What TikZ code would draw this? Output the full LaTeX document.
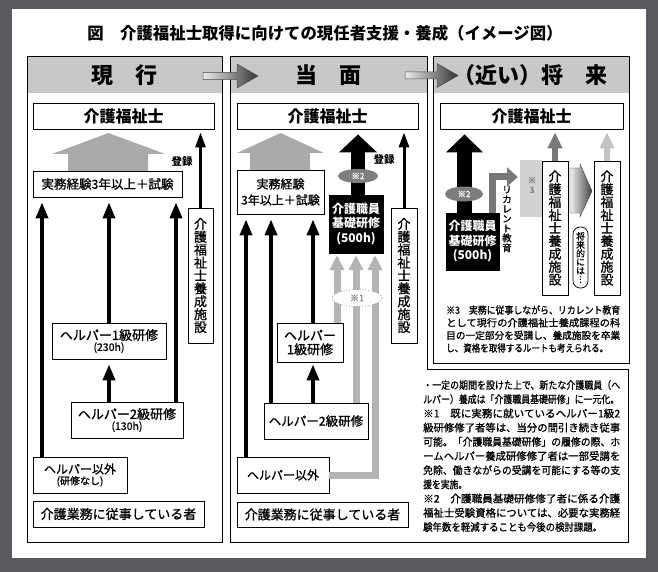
\documentclass[tikz,border=0pt]{standalone}
\usepackage{fontspec}
\setmainfont{Noto Sans CJK JP}[UprightFeatures={FakeBold=1.0}]
\usepackage{graphicx}
\usetikzlibrary{arrows.meta,shapes.geometric}
\definecolor{bgdark}{RGB}{89,89,94}
\definecolor{hdrgray}{RGB}{200,200,200}
\definecolor{housegray}{RGB}{170,170,170}
\definecolor{routegray}{RGB}{180,180,180}
\definecolor{notegray}{RGB}{125,125,125}
\definecolor{recgray}{RGB}{120,120,120}
\definecolor{lightrect}{RGB}{210,210,210}
\definecolor{palegray}{RGB}{195,195,195}
\newcommand\fitw[2]{\resizebox{#1}{\height}{#2}}
\newcommand\myfs[2]{\fontsize{#1}{#2}\selectfont}
\tikzset{
  box/.style={draw=black, line width=0.8pt, fill=white, inner sep=0pt, align=center},
  blackbox/.style={draw=black, fill=black, text=white, inner sep=0pt, align=center, font=\bfseries\myfs{12}{14.5}},
  vbox/.style={box, font=\myfs{13}{12.9}},
  uparrow/.style={-{Triangle[length=16pt,width=12pt]}, line width=3.5pt, shorten >=5pt},
  regarrow/.style={-{Triangle[length=15pt,width=10pt]}, line width=3pt, shorten >=3pt},
  routearrow/.style={-{Triangle[length=15pt,width=14pt]}, line width=7pt, draw=routegray, shorten >=2pt},
  bigarrow/.style={-{Triangle[length=18pt,width=37pt]}, line width=14pt, shorten >=5pt},
  schoolarrow/.style={-{Triangle[length=16pt,width=14pt]}, line width=6pt, shorten >=3pt},
  hdr/.style={font=\bfseries\myfs{22}{22}, inner sep=0pt},
  reglabel/.style={font=\bfseries\myfs{10.5}{12}, inner sep=0pt},
  notetxt/.style={anchor=west, inner sep=0pt, font=\myfs{10.5}{12}},
  notetxtb/.style={anchor=west, inner sep=0pt, font=\myfs{10}{12}},
  vlabel/.style={inner sep=0pt, align=center},
  hdrarrow/.style={left color=gray!15, right color=black!80, draw=gray!60!black, line width=0.5pt},
}
\begin{document}
\begin{tikzpicture}[x=1pt,y=-1pt]
\useasboundingbox (0,0) rectangle (658,572);
\fill[bgdark] (0,0) rectangle (658,572);
\fill[white] (12,9) rectangle (646,558);

\node[font=\bfseries\myfs{16.4}{18}, inner sep=0pt] (title) at (325,33) {図　介護福祉士取得に向けての現任者支援・養成（イメージ図）};

% ---------- panel frames ----------
\fill[hdrgray] (27,56) rectangle (222,93);
\draw[line width=0.8pt] (27,56) rectangle (222,542);
\fill[hdrgray] (230,56) rectangle (427,93);
\draw[line width=0.8pt] (230,56) -- (427,56) -- (427,369) -- (628,369) -- (628,542) -- (230,542) -- cycle;
\fill[hdrgray] (433,56) rectangle (629,93);
\draw[line width=0.8pt] (433,56) rectangle (629,363);

\node[hdr] (h1) at (124.5,75) {現　行};
\node[hdr] (h2) at (328.5,75) {当　面};
\node[hdr] (h3) at (530,75) {（近い）将　来};

\shade[hdrarrow] (203,72.5) -- (237,72.5) -- (237,64) -- (258,76) -- (237,88) -- (237,79.5) -- (203,79.5) -- cycle;
\shade[hdrarrow] (405,72) -- (437,72) -- (437,63.5) -- (458,75.5) -- (437,87.5) -- (437,79) -- (405,79) -- cycle;

% ---------- panel 1 ----------
\fill[housegray] (52,154) -- (108.5,133) -- (165,154) -- (148,154) -- (148,171) -- (68,171) -- (68,154) -- cycle;
\node[box, minimum width=181pt, minimum height=26pt, font=\bfseries\myfs{16}{18}] (p1cw) at (123.5,116) {介護福祉士};
\node[box, minimum width=149pt, minimum height=26pt, font=\myfs{12.5}{14}] (p1exam) at (107.5,184) {実務経験3年以上＋試験};
\node[vbox, minimum width=25pt, minimum height=135pt] (p1school) at (200.5,275.5) {介\\護\\福\\祉\\士\\養\\成\\施\\設};
\node[reglabel] (p1reg) at (182,162) {登録};
\node[box, minimum width=114pt, minimum height=36pt] (p1h1) at (109,341) {{\myfs{13}{15}ヘルパー1級研修}\\[-1pt]{\myfs{10.5}{12}(230h)}};
\node[box, minimum width=112pt, minimum height=36pt] (p1h2) at (127,420) {{\myfs{13}{15}ヘルパー2級研修}\\[-1pt]{\myfs{10.5}{12}(130h)}};
\node[box, minimum width=94pt, minimum height=36pt] (p1other) at (80,475) {{\myfs{12}{13}ヘルパー以外}\\[-1pt]{\myfs{10}{12}(研修なし)}};
\node[box, minimum width=171pt, minimum height=26pt, font=\myfs{13}{15}] (p1worker) at (118.5,514) {介護業務に従事している者};

\coordinate (a42) at (42,0);
\coordinate (a109) at (109,0);
\coordinate (a176) at (176,0);
\draw[uparrow] (p1other.north -| a42) -- (p1exam.south -| a42);
\draw[uparrow] (p1h1.north -| a109) -- (p1exam.south -| a109);
\draw[uparrow] (p1h2.north -| a176) -- (p1exam.south -| a176);
\draw[uparrow] (p1h2.north -| a109) -- (p1h1.south -| a109);
\draw[regarrow] (p1school.north) -- (p1cw.south -| p1school.north);

% ---------- panel 2 ----------
\fill[housegray] (237,153) -- (280.5,133) -- (324,153) -- (310,153) -- (310,170) -- (250,170) -- (250,153) -- cycle;
\node[box, minimum width=181pt, minimum height=26pt, font=\bfseries\myfs{16}{18}] (p2cw) at (327.5,116) {介護福祉士};
\node[box, minimum width=87pt, minimum height=44pt, font=\myfs{12}{16}] (p2exam) at (280.5,192) {実務経験\\3年以上＋試験};
\node[blackbox, minimum width=54pt, minimum height=58pt] (p2base) at (356,224) {介護職員\\基礎研修\\(500h)};
\node[vbox, minimum width=26pt, minimum height=135pt] (p2school) at (404,275.5) {介\\護\\福\\祉\\士\\養\\成\\施\\設};
\node[reglabel] (p2reg) at (384,160) {登録};
\node[box, minimum width=66pt, minimum height=39pt, font=\myfs{13}{14}] (p2h1) at (310,342.5) {ヘルパー\\1級研修};
\node[box, minimum width=104pt, minimum height=36pt, font=\myfs{12.5}{14}] (p2h2) at (316,421) {ヘルパー2級研修};
\node[box, minimum width=92pt, minimum height=36pt, font=\myfs{12}{14}] (p2other) at (283,475) {ヘルパー以外};
\node[box, minimum width=171pt, minimum height=25pt, font=\myfs{13}{15}] (p2worker) at (322.5,514.5) {介護業務に従事している者};

\coordinate (b246) at (246,0);
\coordinate (b271) at (271,0);
\coordinate (b313) at (313,0);
\coordinate (g337) at (337,0);
\coordinate (g356) at (356,0);
\coordinate (g375) at (375,0);
\coordinate (bk2) at (358,0);
\draw[uparrow] (p2other.north -| b246) -- (p2exam.south -| b246);
\draw[uparrow] (p2h2.north -| b271) -- (p2exam.south -| b271);
\draw[uparrow] (p2h1.north -| b313) -- (p2exam.south -| b313);
\draw[uparrow, shorten >=2pt] (p2h2.north -| b313) -- (p2h1.south -| b313);
\draw[regarrow] (p2school.north) -- (p2cw.south -| p2school.north);

\draw[routearrow] (p2h1.north -| g337) -- (p2base.south -| g337);
\draw[routearrow] (p2h2.north -| g356) -- (p2base.south -| g356);
\draw[routearrow] (p2other.east) -- (g375 |- p2other.east) -- (p2base.south -| g375);
\node[ellipse, draw=gray, dotted, line width=0.7pt, fill=white, minimum width=50pt, minimum height=17pt, inner sep=0pt, text=notegray, font=\myfs{9}{10}] (p2n1) at (357,298) {※1};

\draw[bigarrow] (p2base.north -| bk2) -- (p2cw.south -| bk2);
\node[ellipse, fill=notegray, minimum width=40pt, minimum height=14pt, inner sep=0pt, text=white, font=\myfs{8.5}{10}] (p2n2) at (358,176) {※2};

% notes of panel 2
\node[notetxt] (n1) at (423,385) {\fitw{197pt}{・一定の期間を設けた上で、新たな介護職員（へ}};
\node[notetxt] (n2) at (423,399.2) {\fitw{196pt}{ルパー）養成は「介護職員基礎研修」に一元化。}};
\node[notetxt] (n3) at (423,413.4) {\fitw{197pt}{※1　既に実務に就いているヘルパー1級2}};
\node[notetxt] (n4) at (423,427.6) {\fitw{197pt}{級研修修了者等は、当分の間引き続き従事}};
\node[notetxt] (n5) at (423,441.8) {\fitw{197pt}{可能。「介護職員基礎研修」の履修の際、ホ}};
\node[notetxt] (n6) at (423,456) {\fitw{197pt}{ームヘルパー養成研修修了者は一部受講を}};
\node[notetxt] (n7) at (423,470.2) {\fitw{197pt}{免除、働きながらの受講を可能にする等の支}};
\node[notetxt] (n8) at (423,484.4) {\fitw{44pt}{援を実施。}};
\node[notetxt] (n9) at (423,498.6) {\fitw{197pt}{※2　介護職員基礎研修修了者に係る介護}};
\node[notetxt] (n10) at (423,512.8) {\fitw{197pt}{福祉士受験資格については、必要な実務経}};
\node[notetxt] (n11) at (423,527) {\fitw{179pt}{験年数を軽減することも今後の検討課題。}};

% ---------- panel 3 ----------
\node[box, minimum width=183pt, minimum height=26pt, font=\bfseries\myfs{16}{18}] (p3cw) at (531.5,116) {介護福祉士};
\node[blackbox, minimum width=53pt, minimum height=57pt] (p3base) at (472.5,241.5) {介護職員\\基礎研修\\(500h)};
\node[fill=lightrect, minimum width=22pt, minimum height=57pt, inner sep=0pt] (p3r) at (531,188.5) {};
\node[vlabel, text=notegray, font=\myfs{8.5}{9.5}] (p3rl) at (532,185) {※\\3};
\node[vbox, minimum width=26pt, minimum height=134pt] (p3s1) at (555,228) {介\\護\\福\\祉\\士\\養\\成\\施\\設};
\node[vbox, minimum width=26pt, minimum height=134pt] (p3s2) at (607,228) {介\\護\\福\\祉\\士\\養\\成\\施\\設};
\node[vlabel, font=\myfs{9.5}{9.7}] (rectxt) at (507,219) {リ\\カ\\レ\\ン\\ト\\教\\育};
\node[draw, line width=0.7pt, rounded corners=7pt, minimum width=15pt, minimum height=61pt, inner sep=0pt, align=center, font=\myfs{8.8}{8.6}] (later) at (580.5,257.5) {将\\来\\的\\に\\は\\︙};

\coordinate (bk3) at (464.5,0);
\coordinate (rec) at (492,177);
\draw[bigarrow, line width=15pt, -{Triangle[length=18pt,width=36pt]}] (p3base.north -| bk3) -- (p3cw.south -| bk3);
\node[ellipse, fill=notegray, minimum width=38pt, minimum height=15pt, inner sep=0pt, text=white, font=\myfs{8.5}{10}] (p3n2) at (464,194) {※2};
\draw[-{Triangle[length=11pt,width=19pt]}, line width=7pt, draw=recgray, shorten >=2pt] (p3base.north -| rec) |- (p3r.west |- rec);
\draw[schoolarrow, draw=recgray] (p3s1.north) -- (p3cw.south -| p3s1.north);
\draw[schoolarrow, draw=palegray] (p3s2.north) -- (p3cw.south -| p3s2.north);
\shade[left color=gray!10, right color=black!75, draw=gray!50!black, line width=0.4pt] (570,168) -- (580,168) -- (580,164) -- (592,191) -- (580,217) -- (580,213) -- (570,213) -- cycle;

\node[notetxtb] (m1) at (446,310) {\fitw{174pt}{※3　実務に従事しながら、リカレント教育}};
\node[notetxtb] (m2) at (446,322.7) {\fitw{174pt}{として現行の介護福祉士養成課程の科}};
\node[notetxtb] (m3) at (446,335.4) {\fitw{174pt}{目の一定部分を受講し、養成施設を卒業}};
\node[notetxtb] (m4) at (446,348) {\fitw{162pt}{し、資格を取得するルートも考えられる。}};
\end{tikzpicture}
\end{document}
